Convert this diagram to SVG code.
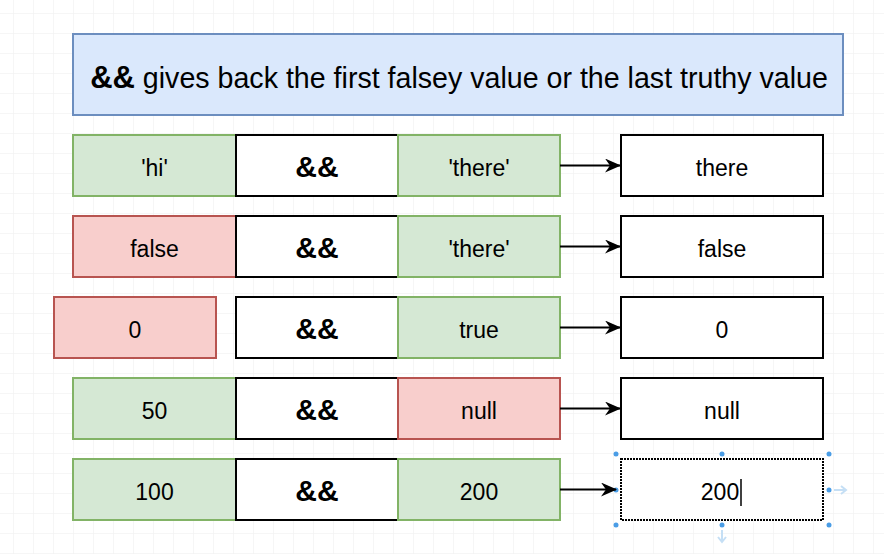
<svg xmlns="http://www.w3.org/2000/svg" width="884" height="554" viewBox="0 0 884 554">
<defs>
<pattern id="grid" x="13" y="13" width="20" height="20" patternUnits="userSpaceOnUse">
<path d="M0 0H20M0 0V20" fill="none" stroke="#eeeeee" stroke-width="1"/>
</pattern>
<marker id="arr" viewBox="0 0 16 14" refX="15" refY="7" markerWidth="16" markerHeight="14" markerUnits="userSpaceOnUse" orient="auto">
<path d="M0 0L16 7L0 14L5 7Z" fill="#000"/>
</marker>
</defs>
<style>
text{font-family:"Liberation Sans",Arial,sans-serif;fill:#000;text-anchor:middle}
.v{font-size:23px}
.op{font-size:30px;font-weight:bold}
.g{fill:#d5e8d4;stroke:#82b366;stroke-width:2}
.r{fill:#f8cecc;stroke:#b85450;stroke-width:2}
.w{fill:#fff;stroke:#000;stroke-width:2}
.c{stroke:#000;stroke-width:2;fill:none}
.h{fill:#4a9de6}
</style>
<rect width="884" height="554" fill="#fff"/>
<rect width="884" height="554" fill="url(#grid)"/>
<g id="title">
<rect x="73" y="34" width="770" height="81" fill="#dae8fc" stroke="#6c8ebf" stroke-width="2"/>
<text x="459" y="88" font-size="28.6"><tspan font-weight="bold" font-size="31">&amp;&amp;</tspan> gives back the first falsey value or the last truthy value</text>
</g>
<g id="row1">
<g id="r1a"><rect class="g" x="73" y="135" width="163" height="61"/><text class="v" x="154.5" y="176">'hi'</text></g>
<g id="r1b"><rect class="w" x="236" y="135" width="162" height="61"/><text class="op" x="317" y="177">&amp;&amp;</text></g>
<g id="r1c"><rect class="g" x="398" y="135" width="162" height="61"/><text class="v" x="479" y="176">'there'</text></g>
<g id="r1d"><rect class="w" x="621" y="135" width="202" height="61"/><text class="v" x="722" y="176">there</text></g>
</g>
<g id="row2">
<g id="r2a"><rect class="r" x="73" y="216" width="163" height="61"/><text class="v" x="154.5" y="257">false</text></g>
<g id="r2b"><rect class="w" x="236" y="216" width="162" height="61"/><text class="op" x="317" y="258">&amp;&amp;</text></g>
<g id="r2c"><rect class="g" x="398" y="216" width="162" height="61"/><text class="v" x="479" y="257">'there'</text></g>
<g id="r2d"><rect class="w" x="621" y="216" width="202" height="61"/><text class="v" x="722" y="257">false</text></g>
</g>
<g id="row3">
<g id="r3a"><rect class="r" x="54" y="297" width="162" height="61"/><text class="v" x="135" y="338">0</text></g>
<g id="r3b"><rect class="w" x="236" y="297" width="162" height="61"/><text class="op" x="317" y="339">&amp;&amp;</text></g>
<g id="r3c"><rect class="g" x="398" y="297" width="162" height="61"/><text class="v" x="479" y="338">true</text></g>
<g id="r3d"><rect class="w" x="621" y="297" width="202" height="61"/><text class="v" x="722" y="338">0</text></g>
</g>
<g id="row4">
<g id="r4a"><rect class="g" x="73" y="378" width="163" height="61"/><text class="v" x="154.5" y="419">50</text></g>
<g id="r4b"><rect class="w" x="236" y="378" width="162" height="61"/><text class="op" x="317" y="420">&amp;&amp;</text></g>
<g id="r4c"><rect class="r" x="398" y="378" width="162" height="61"/><text class="v" x="479" y="419">null</text></g>
<g id="r4d"><rect class="w" x="621" y="378" width="202" height="61"/><text class="v" x="722" y="419">null</text></g>
</g>
<g id="row5">
<g id="r5a"><rect class="g" x="73" y="459" width="163" height="61"/><text class="v" x="154.5" y="500">100</text></g>
<g id="r5b"><rect class="w" x="236" y="459" width="162" height="61"/><text class="op" x="317" y="501">&amp;&amp;</text></g>
<g id="r5c"><rect class="g" x="398" y="459" width="162" height="61"/><text class="v" x="479" y="500">200</text></g>
<g id="r5d"><rect class="w" x="621" y="459" width="202" height="61" stroke-dasharray="2 1"/><text class="v" x="720" y="500">200</text>
<line x1="741" y1="479" x2="741" y2="506" stroke="#000" stroke-width="1.5"/>
<g id="handles">
<circle class="h" cx="616" cy="454" r="2.5"/><circle class="h" cx="722" cy="454" r="2.5"/><circle class="h" cx="829" cy="454" r="2.5"/>
<circle class="h" cx="616" cy="490" r="2.5"/><circle class="h" cx="829" cy="490" r="2.5"/>
<circle class="h" cx="616" cy="525" r="2.5"/><circle class="h" cx="722" cy="525" r="2.5"/><circle class="h" cx="829" cy="525" r="2.5"/>
<path d="M834 490H846M841 486L846 490L841 494" fill="none" stroke="#c5dff5" stroke-width="2"/>
<path d="M722 530V542M718 537L722 542L726 537" fill="none" stroke="#c5dff5" stroke-width="2"/>
</g>
</g>
</g>
<g id="connectors">
<line class="c" x1="560" y1="165.5" x2="620" y2="165.5" marker-end="url(#arr)"/>
<line class="c" x1="560" y1="246.5" x2="620" y2="246.5" marker-end="url(#arr)"/>
<line class="c" x1="560" y1="327.5" x2="620" y2="327.5" marker-end="url(#arr)"/>
<line class="c" x1="560" y1="408.5" x2="620" y2="408.5" marker-end="url(#arr)"/>
<line class="c" x1="560" y1="489.5" x2="616" y2="489.5" marker-end="url(#arr)"/>
</g>
</svg>
